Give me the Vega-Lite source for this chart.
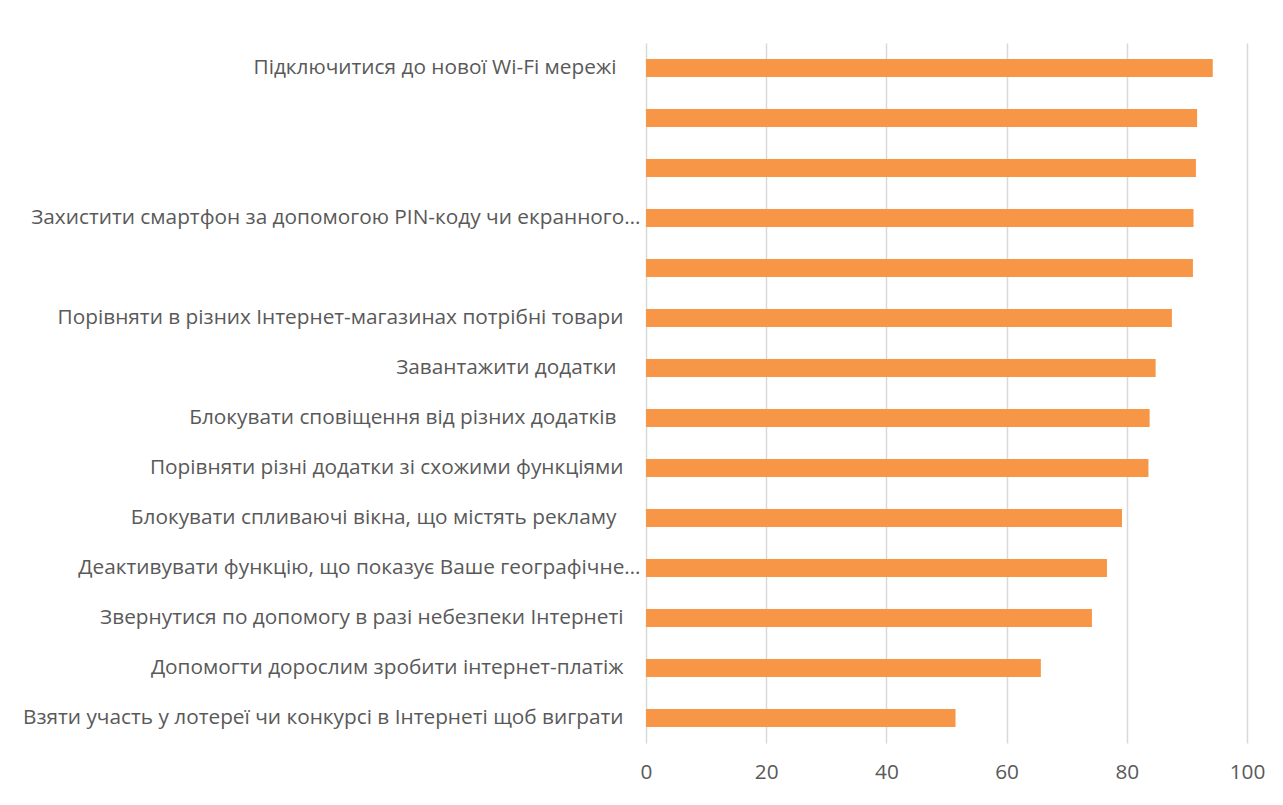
{
  "$schema": "https://vega.github.io/schema/vega-lite/v6.json",
  "width": 601,
  "height": 700,
  "autosize": {"type": "none"},
  "padding": {"left": 646, "top": 43, "right": 36, "bottom": 62},
  "background": "white",
  "data": {
    "values": [
      {"task": "Підключитися до нової Wi-Fi мережі\u00a0", "pct": 94.3},
      {"task": " ", "pct": 91.7},
      {"task": "  ", "pct": 91.5},
      {"task": "Захистити смартфон за допомогою PIN-коду чи екранного…", "pct": 91.1},
      {"task": "   ", "pct": 91.0},
      {"task": "Порівняти в різних Інтернет-магазинах потрібні товари", "pct": 87.5},
      {"task": "Завантажити додатки\u00a0", "pct": 84.8},
      {"task": "Блокувати сповіщення від різних додатків\u00a0", "pct": 83.8},
      {"task": "Порівняти різні додатки зі схожими функціями", "pct": 83.6},
      {"task": "Блокувати спливаючі вікна, що містять рекламу\u00a0", "pct": 79.2},
      {"task": "Деактивувати функцію, що показує Ваше географічне…", "pct": 76.7},
      {"task": "Звернутися по допомогу в разі небезпеки Інтернеті", "pct": 74.2},
      {"task": "Допомогти дорослим зробити інтернет-платіж", "pct": 65.7},
      {"task": "Взяти участь у лотереї чи конкурсі в Інтернеті щоб виграти", "pct": 51.5}
    ]
  },
  "mark": {"type": "bar", "color": "#F79646"},
  "encoding": {
    "y": {
      "field": "task",
      "type": "nominal",
      "sort": null,
      "title": null,
      "scale": {"paddingInner": 0.64, "paddingOuter": 0.32},
      "axis": {
        "ticks": false,
        "domain": false,
        "labelPadding": {"condition": [
          {"test": "indexof(datum.value, '…') >= 0", "value": 6},
          {"test": "indexof(datum.value, '\u00a0') >= 0", "value": 30}
        ], "value": 23},
        "labelLimit": 0,
        "labelFont": "Open Sans",
        "labelFontSize": 20.8,
        "labelColor": "#595959"
      }
    },
    "x": {
      "field": "pct",
      "type": "quantitative",
      "title": null,
      "scale": {"domain": [0, 100], "nice": false},
      "axis": {
        "values": [0, 20, 40, 60, 80, 100],
        "ticks": false,
        "domain": false,
        "grid": true,
        "gridColor": "#D9D9D9",
        "gridWidth": 1.5,
        "labelPadding": 19,
        "labelFont": "Open Sans",
        "labelFontSize": 20.8,
        "labelColor": "#595959",
        "labelFlush": false
      }
    }
  },
  "config": {"view": {"stroke": null}}
}
